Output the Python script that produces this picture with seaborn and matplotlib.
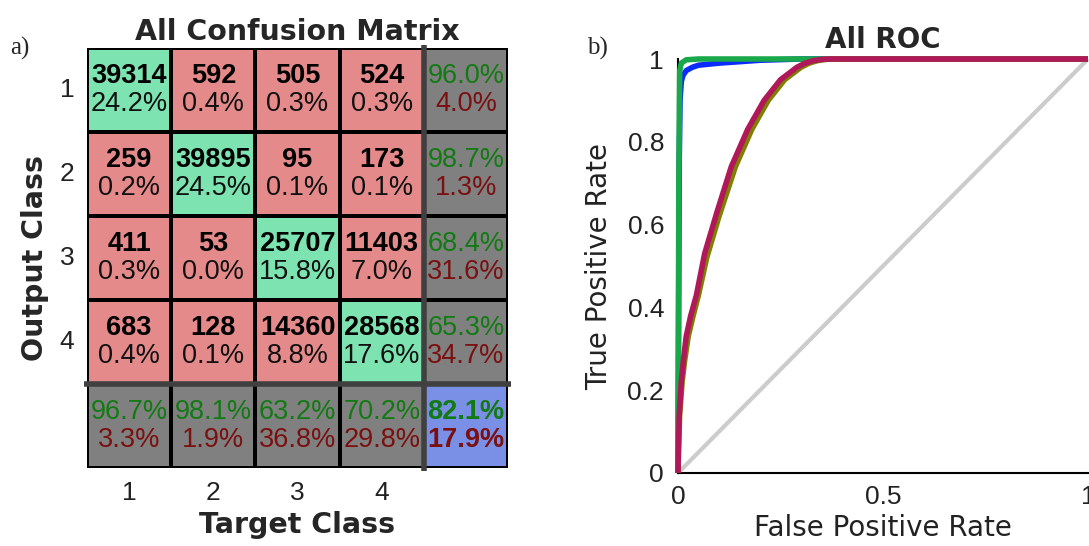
import numpy as np
import pandas as pd
import matplotlib
matplotlib.use("Agg")
import matplotlib.pyplot as plt
from matplotlib.colors import ListedColormap
import seaborn as sns

# ---------------- data ----------------
classes = ["1", "2", "3", "4"]
counts = [
    [39314, 592, 505, 524],
    [259, 39895, 95, 173],
    [411, 53, 25707, 11403],
    [683, 128, 14360, 28568],
]

# ROC curves
roc_c1_fpr = [0, 0.002, 0.003, 0.005, 0.008, 0.012, 0.02, 0.035, 0.05, 0.1, 0.2, 0.3, 1.0]
roc_c1_tpr = [0, 0.5, 0.75, 0.9, 0.945, 0.96, 0.972, 0.98, 0.985, 0.99, 0.997, 1.0, 1.0]
roc_c2_fpr = [0, 0.002, 0.004, 0.008, 0.02, 0.05, 1.0]
roc_c2_tpr = [0, 0.7, 0.97, 0.99, 0.998, 1.0, 1.0]
roc_c3_fpr = [0, 0.001, 0.004, 0.01, 0.016, 0.025, 0.037, 0.05, 0.07, 0.1, 0.14, 0.18, 0.22,
              0.26, 0.3, 0.32, 0.34, 0.36, 0.38, 1.0]
roc_c3_tpr = [0, 0.05, 0.14, 0.22, 0.27, 0.33, 0.38, 0.43, 0.52, 0.62, 0.74, 0.83, 0.9,
              0.95, 0.98, 0.99, 0.996, 0.999, 1.0, 1.0]
roc_c4_fpr = [0, 0.001, 0.003, 0.008, 0.013, 0.02, 0.031, 0.045, 0.065, 0.095, 0.13, 0.17, 0.21,
              0.25, 0.29, 0.31, 0.33, 0.35, 0.37, 1.0]
roc_c4_tpr = [0, 0.05, 0.14, 0.22, 0.27, 0.33, 0.38, 0.43, 0.53, 0.63, 0.74, 0.83, 0.9,
              0.95, 0.98, 0.99, 0.996, 0.999, 1.0, 1.0]

# ---------------- style ----------------
sns.set_style("white")
plt.rcParams["font.family"] = ["DejaVu Sans"]
CELLFONT = ["Liberation Sans", "DejaVu Sans"]

fig = plt.figure(figsize=(10.89, 5.46), dpi=100)

# ================= confusion matrix =================
ax1 = fig.add_axes([87 / 1089, 1 - 468 / 546, 421 / 1089, 420 / 546])
cm = np.array(counts)
n = cm.shape[0]
total = cm.sum()

# color codes: 0 green (diag), 1 red (off diag), 2 gray (margins), 3 blue (overall)
codes = np.ones((n + 1, n + 1), dtype=int)
for i in range(n):
    codes[i, i] = 0
codes[n, :] = 2
codes[:, n] = 2
codes[n, n] = 3
cmap = ListedColormap(["#7de3b0", "#e58a8a", "#808080", "#7a8fe6"])
sns.heatmap(pd.DataFrame(codes), cmap=cmap, vmin=-0.5, vmax=3.5, cbar=False,
            linewidths=1.5, linecolor="black", ax=ax1, annot=False, square=False)

fs_cnt = 19.5
fs_pct = 19.5
top_off, bot_off = 0.33, 0.67


def cell_text(x, y, s, color, bold=False):
    ax1.text(x, y, s, ha="center", va="center", fontsize=fs_cnt if bold else fs_pct,
             fontweight="bold" if bold else "normal", color=color, family=CELLFONT)


for i in range(n):
    for j in range(n):
        cell_text(j + 0.5, i + top_off, f"{cm[i, j]}", "black", bold=True)
        cell_text(j + 0.5, i + bot_off, f"{100 * cm[i, j] / total:.1f}%", "#111111")
green_t, red_t = "#127a12", "#7a1010"
for i in range(n):
    p = 100 * cm[i, i] / cm[i, :].sum()
    cell_text(n + 0.5, i + top_off, f"{p:.1f}%", green_t)
    cell_text(n + 0.5, i + bot_off, f"{100 - p:.1f}%", red_t)
for j in range(n):
    r = 100 * cm[j, j] / cm[:, j].sum()
    cell_text(j + 0.5, n + top_off, f"{r:.1f}%", green_t)
    cell_text(j + 0.5, n + bot_off, f"{100 - r:.1f}%", red_t)
acc = 100 * np.trace(cm) / total
cell_text(n + 0.5, n + top_off, f"{acc:.1f}%", green_t, bold=True)
cell_text(n + 0.5, n + bot_off, f"{100 - acc:.1f}%", red_t, bold=True)

# thick separators
ax1.plot([n, n], [-0.03, n + 1.03], color="#404040", lw=4, clip_on=False, solid_capstyle="butt")
ax1.plot([-0.03, n + 1.03], [n, n], color="#404040", lw=4, clip_on=False, solid_capstyle="butt")

ax1.set_xticks(np.arange(n) + 0.5)
ax1.set_xticklabels(classes, fontsize=19, color="#222222", family=CELLFONT)
ax1.set_yticks(np.arange(n) + 0.5)
ax1.set_yticklabels(classes, fontsize=19, rotation=0, color="#222222", family=CELLFONT)
ax1.tick_params(axis="x", length=0, pad=9)
ax1.tick_params(axis="y", length=0, pad=9)
ax1.set_xlabel("Target Class", fontsize=20.5, fontweight="bold", labelpad=5)
ax1.set_ylabel("Output Class", fontsize=20.5, fontweight="bold", labelpad=8)
ax1.set_title("All Confusion Matrix", fontsize=20.5, fontweight="bold", pad=6)

# ================= ROC =================
ax2 = fig.add_axes([678 / 1089, 1 - 473 / 546, 410 / 1089, 414 / 546])
roc = pd.concat([
    pd.DataFrame({"fpr": roc_c1_fpr, "tpr": roc_c1_tpr, "cls": "1"}),
    pd.DataFrame({"fpr": roc_c2_fpr, "tpr": roc_c2_tpr, "cls": "2"}),
    pd.DataFrame({"fpr": roc_c3_fpr, "tpr": roc_c3_tpr, "cls": "3"}),
    pd.DataFrame({"fpr": roc_c4_fpr, "tpr": roc_c4_tpr, "cls": "4"}),
], ignore_index=True)

ax2.plot([0, 1], [0, 1], color="#cccccc", lw=3, zorder=1)
palette = {"1": "#0a2cff", "2": "#19a84a", "3": "#7f8000", "4": "#b0185a"}
sns.lineplot(data=roc, x="fpr", y="tpr", hue="cls", palette=palette, sort=False,
             estimator=None, lw=4, legend=False, ax=ax2, zorder=3)
for line in ax2.lines:
    line.set_clip_on(False)
    line.set_solid_capstyle("butt")
    line.set_solid_joinstyle("round")

ax2.set_xlim(0, 1)
ax2.set_ylim(0, 1)
ax2.set_xticks([0, 0.5, 1])
ax2.set_xticklabels(["0", "0.5", "1"], family=CELLFONT)
ax2.set_yticks([0, 0.2, 0.4, 0.6, 0.8, 1])
ax2.set_yticklabels(["0", "0.2", "0.4", "0.6", "0.8", "1"], family=CELLFONT)
ax2.tick_params(direction="in", length=5, width=1.2, labelsize=19, colors="black",
                labelcolor="#222222")
ax2.tick_params(axis="y", pad=10)
ax2.tick_params(axis="x", pad=9)
for s in ["top", "right"]:
    ax2.spines[s].set_visible(False)
for s in ["left", "bottom"]:
    ax2.spines[s].set_color("black")
    ax2.spines[s].set_linewidth(1.5)
ax2.set_xlabel("False Positive Rate", fontsize=20, labelpad=3, color="#222222")
ax2.set_ylabel("True Positive Rate", fontsize=20, labelpad=10, color="#222222")
ax2.set_title("All ROC", fontsize=20, fontweight="bold", pad=8)

# panel letters
fig.text(10 / 1089, 1 - 48 / 546, "a)", fontsize=18, family=["Liberation Serif"], va="center", ha="left")
fig.text(587 / 1089, 1 - 48 / 546, "b)", fontsize=18, family=["Liberation Serif"], va="center", ha="left")

fig.savefig("out.png", dpi=100)
